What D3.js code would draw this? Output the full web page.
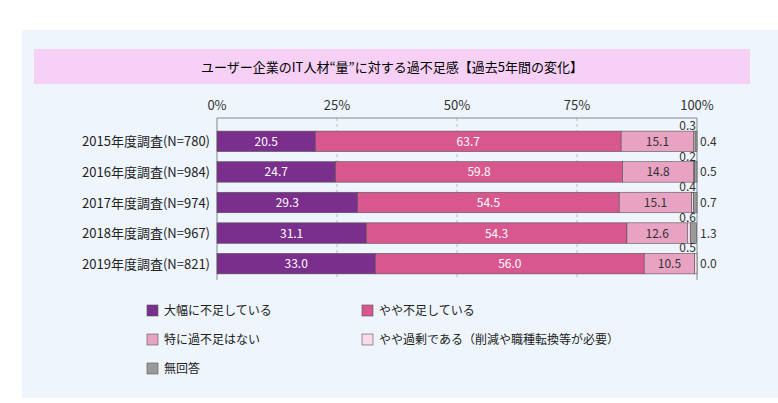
<!DOCTYPE html>
<html><head><meta charset="utf-8">
<script src="https://cdn.jsdelivr.net/npm/d3@7"></script>
<style>body{margin:0;background:#fff;font-family:"Noto Sans CJK JP",sans-serif}</style>
</head><body><svg id="c" width="778" height="403"></svg>
<script>
// data
var years = ["2015年度調査(N=780)","2016年度調査(N=984)","2017年度調査(N=974)","2018年度調査(N=967)","2019年度調査(N=821)"];
var seriesNames = ["大幅に不足している","やや不足している","特に過不足はない","やや過剰である（削減や職種転換等が必要）","無回答"];
var big   = [20.5, 24.7, 29.3, 31.1, 33.0];
var some  = [63.7, 59.8, 54.5, 54.3, 56.0];
var none  = [15.1, 14.8, 15.1, 12.6, 10.5];
var over  = [0.3, 0.2, 0.4, 0.6, 0.5];
var noAns = [0.4, 0.5, 0.7, 1.3, 0.0];
var ticks = [0, 25, 50, 75, 100];
var colors = ["#7b2f8c", "#d8578f", "#e9a3c2", "#f9dcea", "#9a9a9a"];

var svg = d3.select("#c");
svg.append("rect").attr("x",22).attr("y",30).attr("width",756).attr("height",368).attr("fill","#eef5fc");
svg.append("rect").attr("x",34).attr("y",49).attr("width",716).attr("height",35).attr("fill","#f6d0f5");
svg.append("text").attr("x",392).attr("y",72).attr("text-anchor","middle").attr("font-size",13)
  .text("ユーザー企業のIT人材“量”に対する過不足感【過去5年間の変化】");

var x = d3.scaleLinear().domain([0,100]).range([217,697]);
var y = d3.scaleBand().domain(years).range([125,280]).paddingInner(0.33).paddingOuter(0.2);

ticks.forEach(function(t){
  svg.append("text").attr("x",x(t)).attr("y",110).attr("text-anchor","middle")
    .attr("font-size",13).attr("fill","#333").text(t+"%");
  if(t>0 && t<100) svg.append("line").attr("x1",x(t)).attr("x2",x(t)).attr("y1",118).attr("y2",280)
    .attr("stroke","#bbb").attr("stroke-dasharray","3,3");
});
svg.append("line").attr("x1",x(0)).attr("x2",x(100)).attr("y1",118).attr("y2",118).attr("stroke","#888");
svg.append("line").attr("x1",x(0)).attr("x2",x(0)).attr("y1",118).attr("y2",280).attr("stroke","#888");
svg.append("line").attr("x1",x(100)).attr("x2",x(100)).attr("y1",118).attr("y2",280).attr("stroke","#888");

var series = [big, some, none, over, noAns];
years.forEach(function(yr,i){
  var acc = 0, by = y(yr), bh = y.bandwidth();
  svg.append("text").attr("x",210).attr("y",by+bh/2+5).attr("text-anchor","end")
    .attr("font-size",13).attr("fill","#222").text(yr);
  series.forEach(function(s,k){
    var v = s[i];
    svg.append("rect").attr("x",x(acc)).attr("y",by).attr("width",Math.max(0,x(acc+v)-x(acc))).attr("height",bh)
      .attr("fill",colors[k]).attr("stroke","#555").attr("stroke-width",0.6);
    if(k<3) svg.append("text").attr("x",x(acc+v/2)).attr("y",by+bh/2+4.5).attr("text-anchor","middle")
      .attr("font-size",12).attr("fill", k==2 ? "#333" : "#fff").text(v.toFixed(1));
    acc += v;
  });
  svg.append("text").attr("x",x(100)-1).attr("y",by-1).attr("text-anchor","end").attr("font-size",12)
    .attr("fill","#333").text(over[i].toFixed(1));
  svg.append("text").attr("x",x(100)+3).attr("y",by+bh/2+4.5).attr("font-size",12)
    .attr("fill","#333").text(noAns[i].toFixed(1));
});

var legPos = [[147,311],[362,311],[147,340],[362,340],[147,369]];
seriesNames.forEach(function(n,k){
  var p = legPos[k];
  svg.append("rect").attr("x",p[0]).attr("y",p[1]-6).attr("width",11).attr("height",11)
    .attr("fill",colors[k]).attr("stroke","#555").attr("stroke-width",0.6);
  svg.append("text").attr("x",p[0]+17).attr("y",p[1]+4).attr("font-size",12).attr("fill","#222").text(n);
});
</script></body></html>
